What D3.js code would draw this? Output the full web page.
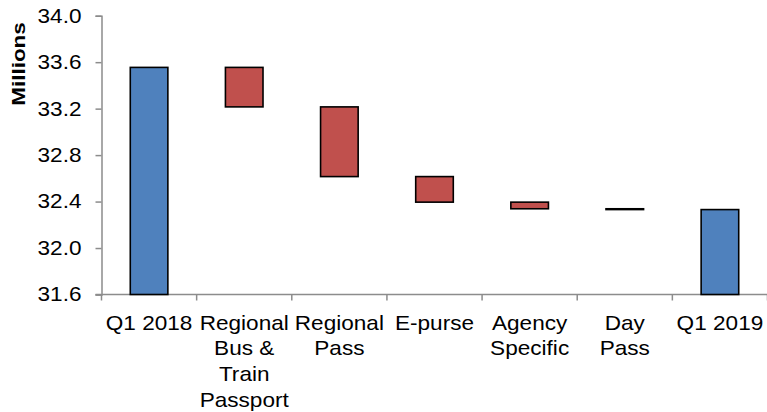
<!DOCTYPE html>
<html>
<head>
<meta charset="utf-8">
<script src="https://cdn.jsdelivr.net/npm/d3@7/dist/d3.min.js"></script>
<style>
  html, body { margin: 0; padding: 0; background: #fff; }
  svg { display: block; font-family: "Liberation Sans", Arial, sans-serif; }
</style>
</head>
<body>
<svg id="chart" width="767" height="412"></svg>
<script>
// Waterfall: ridership at the start, the change by fare product, ridership at the end (millions)
const categories = ["Q1 2018", "Regional Bus & Train Passport", "Regional Pass", "E-purse", "Agency Specific", "Day Pass", "Q1 2019"];
const tickLabels = [["Q1 2018"], ["Regional", "Bus &", "Train", "Passport"], ["Regional", "Pass"], ["E-purse"], ["Agency", "Specific"], ["Day", "Pass"], ["Q1 2019"]];
const startValue = 33.555;
const changes = [-0.340, -0.600, -0.220, -0.057, -0.007];
const endValue = 32.331;
const yTicks = [31.6, 32.0, 32.4, 32.8, 33.2, 33.6, 34.0];

// Build floating segments [low, high] for each category
const segments = [];
segments.push({ cat: categories[0], lo: 31.6, hi: startValue, kind: "total" });
let running = startValue;
changes.forEach((d, i) => {
  const next = running + d;
  segments.push({ cat: categories[i + 1], lo: Math.min(running, next), hi: Math.max(running, next), kind: d < 0 ? "down" : "up" });
  running = next;
});
segments.push({ cat: categories[6], lo: 31.6, hi: endValue, kind: "total" });

const svg = d3.select("#chart");
const margin = { left: 101.5, right: 0, top: 15.7, bottom: 117.5 };
const W = 767, H = 412;

const x = d3.scaleBand().domain(categories).range([margin.left, W + 0.5]).paddingInner(0.605).paddingOuter(0.3025);
const y = d3.scaleLinear().domain([31.6, 34.0]).range([H - margin.bottom, margin.top]);

const axisColor = "#8c8c8c";
const fontSize = 20;
const stretch = 1.13;   // slightly wide lettering

// Y axis
const yAxis = svg.append("g").attr("transform", `translate(${margin.left},0)`)
  .call(d3.axisLeft(y).tickValues(yTicks).tickFormat(d3.format(".1f")).tickSize(6));
yAxis.select(".domain").attr("stroke", axisColor).attr("stroke-width", 1.5);
yAxis.selectAll(".tick line").attr("stroke", axisColor).attr("stroke-width", 1.5);
yAxis.selectAll(".tick text")
  .attr("font-size", fontSize).attr("fill", "#000")
  .attr("font-family", "Liberation Sans, Arial, sans-serif")
  .attr("x", -20 / stretch)
  .attr("transform", `scale(${stretch},1)`);

// X axis line with ticks at category boundaries
const step = x.step();
const boundaries = d3.range(categories.length + 1).map(i => margin.left + i * step);
svg.append("line")
  .attr("x1", margin.left - 6).attr("x2", W)
  .attr("y1", y(31.6)).attr("y2", y(31.6))
  .attr("stroke", axisColor).attr("stroke-width", 1.5);
svg.selectAll(".xtick").data(boundaries).join("line")
  .attr("class", "xtick")
  .attr("x1", d => d).attr("x2", d => d)
  .attr("y1", y(31.6)).attr("y2", y(31.6) + 6)
  .attr("stroke", axisColor).attr("stroke-width", 1.5);

// Category labels
const labels = svg.selectAll(".xlab").data(categories).join("text")
  .attr("class", "xlab")
  .attr("text-anchor", "middle")
  .attr("font-size", fontSize)
  .attr("fill", "#000")
  .attr("transform", d => `translate(${x(d) + x.bandwidth() / 2},${y(31.6) + 35}) scale(${stretch},1)`);
labels.each(function (d, i) {
  d3.select(this).selectAll("tspan").data(tickLabels[i]).join("tspan")
    .attr("x", 0).attr("y", (t, j) => j * 25.7).text(t => t);
});

// Bars
const colors = { total: "#4f81bd", down: "#c0504d", up: "#9bbb59" };
svg.selectAll(".bar").data(segments).join("rect")
  .attr("class", "bar")
  .attr("x", d => x(d.cat))
  .attr("width", x.bandwidth())
  .attr("y", d => y(d.hi))
  .attr("height", d => Math.max(0, y(d.lo) - y(d.hi)))
  .attr("fill", d => colors[d.kind])
  .attr("stroke", "#000")
  .attr("stroke-width", 1.6);

// Axis title
svg.append("text")
  .attr("transform", `translate(25,64) rotate(-90) scale(1,0.82)`)
  .attr("text-anchor", "middle")
  .attr("font-size", 22.5)
  .attr("font-weight", "bold")
  .attr("fill", "#000")
  .text("Millions");
</script>
</body>
</html>
